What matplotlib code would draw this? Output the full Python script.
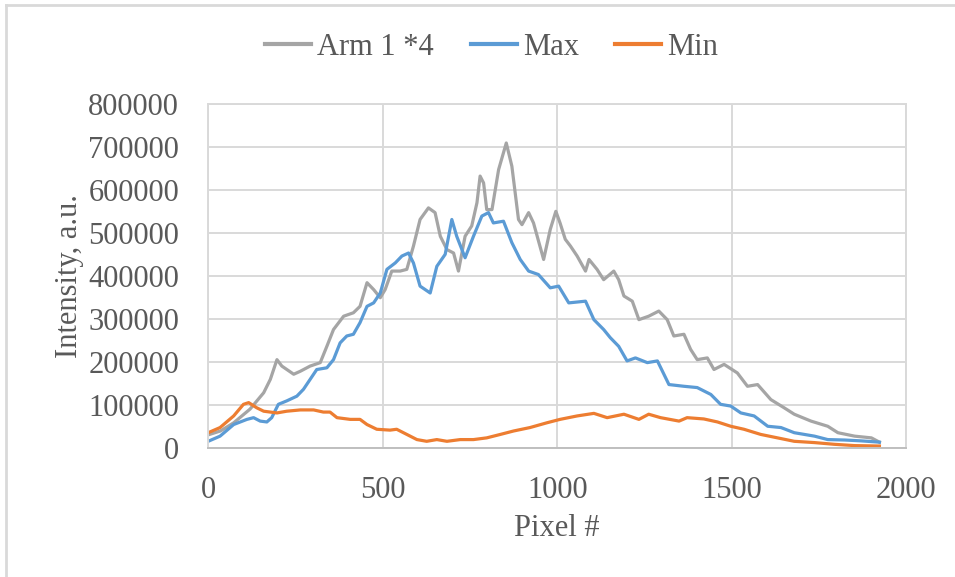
import matplotlib.pyplot as plt
from matplotlib.lines import Line2D


# values
arm_x = [0, 35, 73, 120, 159, 178, 197, 211, 245, 264, 292, 321, 340, 359, 388, 416, 435,
         455, 474, 493, 507, 526, 550, 569, 588, 607, 631, 650, 665, 684, 703, 717, 736,
         755, 770, 779, 789, 798, 813, 832, 854, 870, 889, 899, 918, 932, 961, 980, 996,
         1008, 1023, 1038, 1057, 1081, 1091, 1114, 1133, 1162, 1176, 1191, 1215, 1234,
         1262, 1291, 1315, 1334, 1363, 1382, 1401, 1430, 1449, 1478, 1516, 1545, 1574,
         1612, 1650, 1679, 1727, 1775, 1804, 1852, 1900, 1923]
arm_y = [30000, 39000, 58000, 90000, 128000, 159000, 205000, 190000, 171000, 178000,
         190000, 198000, 236000, 275000, 306000, 314000, 329000, 384000, 368000, 349000,
         368000, 411000, 411000, 415000, 469000, 531000, 558000, 547000, 492000, 461000,
         453000, 411000, 492000, 516000, 570000, 632000, 616000, 554000, 554000, 647000,
         709000, 655000, 531000, 519000, 547000, 523000, 438000, 508000, 550000, 523000,
         485000, 469000, 446000, 411000, 438000, 415000, 391000, 411000, 391000, 353000,
         341000, 298000, 306000, 318000, 298000, 260000, 264000, 229000, 205000, 209000,
         182000, 194000, 174000, 143000, 147000, 112000, 93000, 78000, 62000, 50000,
         35000, 27000, 23000, 13000]

max_x = [0, 34, 73, 111, 130, 149, 168, 182, 201, 225, 254, 273, 292, 311, 340, 359, 378,
         397, 416, 435, 455, 474, 493, 512, 536, 555, 574, 588, 607, 636, 655, 679, 698,
         712, 736, 760, 784, 803, 817, 846, 870, 894, 918, 946, 980, 1004, 1033, 1081,
         1105, 1133, 1152, 1176, 1200, 1224, 1258, 1287, 1320, 1363, 1401, 1440, 1468,
         1497, 1526, 1564, 1603, 1641, 1679, 1737, 1775, 1823, 1871, 1923]
max_y = [15000, 27000, 54000, 66000, 70000, 62000, 60000, 70000, 101000, 109000, 120000,
         136000, 159000, 182000, 186000, 205000, 244000, 260000, 264000, 291000, 329000,
         337000, 360000, 415000, 430000, 446000, 453000, 430000, 376000, 360000, 422000,
         450000, 531000, 492000, 442000, 492000, 539000, 547000, 523000, 527000, 477000,
         438000, 411000, 403000, 372000, 376000, 337000, 341000, 298000, 275000, 256000,
         236000, 202000, 209000, 198000, 202000, 147000, 143000, 140000, 124000, 101000,
         97000, 81000, 74000, 50000, 47000, 35000, 27000, 19000, 18000, 16000, 13000]

min_x = [0, 34, 73, 101, 116, 139, 159, 197, 225, 264, 302, 330, 349, 369, 407, 435, 455,
         483, 521, 540, 569, 598, 626, 655, 684, 722, 760, 798, 837, 875, 922, 970, 1008,
         1057, 1105, 1143, 1191, 1234, 1262, 1296, 1349, 1372, 1420, 1459, 1497, 1535,
         1583, 1631, 1679, 1737, 1794, 1852, 1923]
min_y = [35000, 47000, 74000, 101000, 105000, 93000, 85000, 81000, 85000, 88000, 88000,
         83000, 83000, 70000, 66000, 66000, 54000, 43000, 41000, 43000, 31000, 19000,
         15000, 19000, 15000, 19000, 19000, 23000, 31000, 39000, 47000, 58000, 66000,
         74000, 80000, 70000, 78000, 66000, 78000, 70000, 62000, 70000, 67000, 60000,
         50000, 43000, 31000, 23000, 15000, 12000, 8000, 5000, 4000]

SERIES_LABELS = ["Arm 1 *4", "Max", "Min"]
SERIES_COLORS = ["#a5a5a5", "#5b9bd5", "#ed7d31"]
TEXT_COLOR = "#595959"
GRID_COLOR = "#d9d9d9"

plt.rcParams["font.family"] = ["Liberation Serif", "DejaVu Serif"]

fig = plt.figure(figsize=(9.55, 5.77), dpi=100)
ax = fig.add_axes([0.218, 0.224, 0.731, 0.596])

for xs, ys, color, label in zip(
    [arm_x, max_x, min_x], [arm_y, max_y, min_y], SERIES_COLORS, SERIES_LABELS
):
    ax.plot(xs, ys, color=color, linewidth=2.3, label=label, solid_joinstyle="round")

ax.set_xlim(0, 2000)
ax.set_ylim(0, 800000)
ax.set_xticks(range(0, 2001, 500))
ax.set_yticks(range(0, 800001, 100000))
ax.grid(True, color=GRID_COLOR, linewidth=1.4)
ax.set_axisbelow(True)
for side in ["top", "right", "left"]:
    ax.spines[side].set_color(GRID_COLOR)
    ax.spines[side].set_linewidth(1.4)
ax.spines["bottom"].set_color("#bfbfbf")
ax.spines["bottom"].set_linewidth(1.4)
ax.tick_params(length=0, labelsize=22, labelcolor=TEXT_COLOR)
ax.tick_params(axis="x", pad=20)
ax.tick_params(axis="y", pad=21)

ax.set_xlabel("Pixel #", fontsize=22, color=TEXT_COLOR, labelpad=7)
ax.set_ylabel("Intensity, a.u.", fontsize=22, color=TEXT_COLOR, labelpad=3)

handles = [Line2D([], [], color=c, linewidth=3) for c in SERIES_COLORS]
fig.legend(handles, SERIES_LABELS, loc="center", bbox_to_anchor=(0.515, 0.918), ncol=3,
           frameon=False, fontsize=22, labelcolor=TEXT_COLOR, handlelength=1.5,
           handletextpad=0.2, columnspacing=1.2)

# chart area border (left and top edges visible)
fig.add_artist(Line2D([0.006, 0.006], [0, 0.991], color=GRID_COLOR, linewidth=2,
                      transform=fig.transFigure))
fig.add_artist(Line2D([0.006, 1], [0.991, 0.991], color=GRID_COLOR, linewidth=2,
                      transform=fig.transFigure))

fig.savefig("out.png", dpi=100)
